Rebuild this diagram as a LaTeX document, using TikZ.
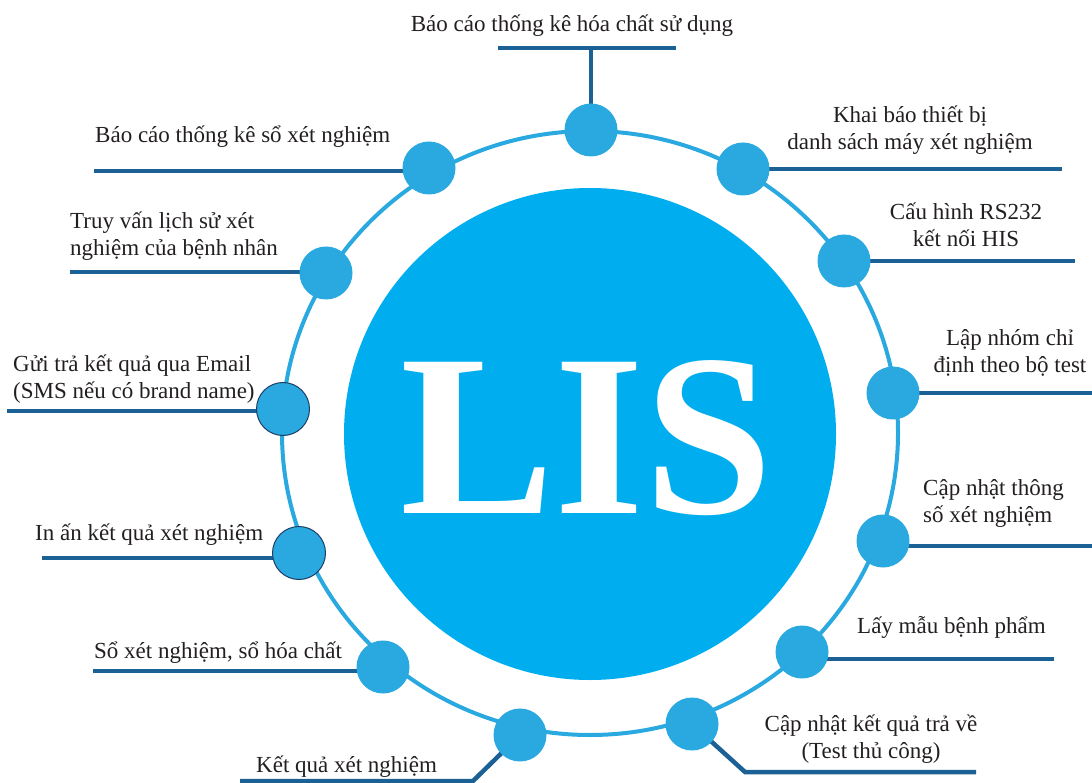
\documentclass[tikz,border=0pt]{standalone}
\usepackage{fontspec}
\setmainfont{Liberation Serif}
\definecolor{txt}{HTML}{231F20}
\definecolor{conn}{HTML}{1B6195}
\definecolor{dotc}{HTML}{29A9E0}
\definecolor{bigc}{HTML}{00AEEF}
\definecolor{rimc}{HTML}{1D3F66}
\begin{document}
\begin{tikzpicture}[x=1pt,y=-1pt,
  dot/.style={circle,fill=dotc,minimum size=53pt,inner sep=0pt},
  dotrim/.style={dot,draw=rimc,line width=1pt},
  lab/.style={text=txt,font=\fontsize{23}{27}\selectfont,inner sep=0pt},
  connline/.style={draw=conn,line width=4.5pt},
  ringline/.style={draw=dotc,line width=4pt}]
\useasboundingbox (0,0) rectangle (1092,783);
% ring
\draw[ringline] (590,433) ellipse[x radius=308, y radius=302];
% free ends of connectors
\coordinate (e1) at (591,48);
\coordinate (b1l) at (498,48);
\coordinate (b1r) at (676,48);
\coordinate (e2) at (94,171);
\coordinate (e3) at (1062,169);
\coordinate (e4) at (70,272);
\coordinate (e5) at (1075,261);
\coordinate (e6) at (7,411);
\coordinate (e7) at (1092,393);
\coordinate (e8) at (42,558);
\coordinate (e9) at (1092,546);
\coordinate (e10) at (93,671);
\coordinate (e11) at (1054,659);
\coordinate (k12) at (473,781);
\coordinate (e12) at (240,781);
\coordinate (k13) at (745,772);
\coordinate (e13) at (976,772);
% circle centres
\coordinate (p1) at (591,130);
\coordinate (p2) at (429,168);
\coordinate (p3) at (743,169);
\coordinate (p4) at (326,273);
\coordinate (p5) at (844,261);
\coordinate (p6) at (283,409);
\coordinate (p7) at (893,393);
\coordinate (p8) at (299,553);
\coordinate (p9) at (883,541);
\coordinate (p10) at (383,667);
\coordinate (p11) at (802,652);
\coordinate (p12) at (520,735);
\coordinate (p13) at (692,724);
% connectors
\draw[connline] (p1) -- (e1);
\draw[connline] (b1l) -- (b1r);
\draw[connline] (p2 |- e2) -- (e2);
\draw[connline] (p3 |- e3) -- (e3);
\draw[connline] (p4 |- e4) -- (e4);
\draw[connline] (p5 |- e5) -- (e5);
\draw[connline] (p6 |- e6) -- (e6);
\draw[connline] (p7 |- e7) -- (e7);
\draw[connline] (p8 |- e8) -- (e8);
\draw[connline] (p9 |- e9) -- (e9);
\draw[connline] (p10 |- e10) -- (e10);
\draw[connline] (p11 |- e11) -- (e11);
\draw[connline,line join=miter] (p12) -- (k12) -- (e12);
\draw[connline,line join=miter] (p13) -- (k13) -- (e13);
% big circle
\node[circle,fill=bigc,minimum size=492pt,inner sep=0pt] (lis) at (590,434) {};
\node[text=white,font=\fontsize{231}{231}\selectfont\bfseries,inner sep=0pt,anchor=base] (listext) at (587,513) {LIS};
% small circles
\node[dot] (c1) at (p1) {};
\node[dot] (c2) at (p2) {};
\node[dot] (c3) at (p3) {};
\node[dot] (c4) at (p4) {};
\node[dot] (c5) at (p5) {};
\node[dotrim] (c6) at (p6) {};
\node[dot] (c7) at (p7) {};
\node[dotrim] (c8) at (p8) {};
\node[dot] (c9) at (p9) {};
\node[dot] (c10) at (p10) {};
\node[dot] (c11) at (p11) {};
\node[dot] (c12) at (p12) {};
\node[dot] (c13) at (p13) {};
% labels (for two-line labels the base anchor is the last line's baseline)
\node[lab,anchor=base] (t1) at (572,32) {Báo cáo thống kê hóa chất sử dụng};
\node[lab,anchor=base west] (t2) at (95,143) {Báo cáo thống kê sổ xét nghiệm};
\node[lab,anchor=base,align=center] (t3) at (910,150) {Khai báo thiết bị\\danh sách máy xét nghiệm};
\node[lab,anchor=base west,align=left] (t4) at (70,256) {Truy vấn lịch sử xét\\nghiệm của bệnh nhân};
\node[lab,anchor=base,align=center] (t5) at (966,247) {Cấu hình RS232\\kết nối HIS};
\node[lab,anchor=base west,align=left] (t6) at (13,398) {Gửi trả kết quả qua Email\\(SMS nếu có brand name)};
\node[lab,anchor=base,align=center] (t7) at (1010,373) {Lập nhóm chỉ\\định theo bộ test};
\node[lab,anchor=base west] (t8) at (35,540) {In ấn kết quả xét nghiệm};
\node[lab,anchor=base west,align=left] (t9) at (923,522) {Cập nhật thông\\số xét nghiệm};
\node[lab,anchor=base west] (t10) at (94,658) {Sổ xét nghiệm, sổ hóa chất};
\node[lab,anchor=base west] (t11) at (857,633) {Lấy mẫu bệnh phẩm};
\node[lab,anchor=base west] (t12) at (256,772) {Kết quả xét nghiệm};
\node[lab,anchor=base,align=center] (t13) at (871,758) {Cập nhật kết quả trả về\\(Test thủ công)};
\end{tikzpicture}
\end{document}
